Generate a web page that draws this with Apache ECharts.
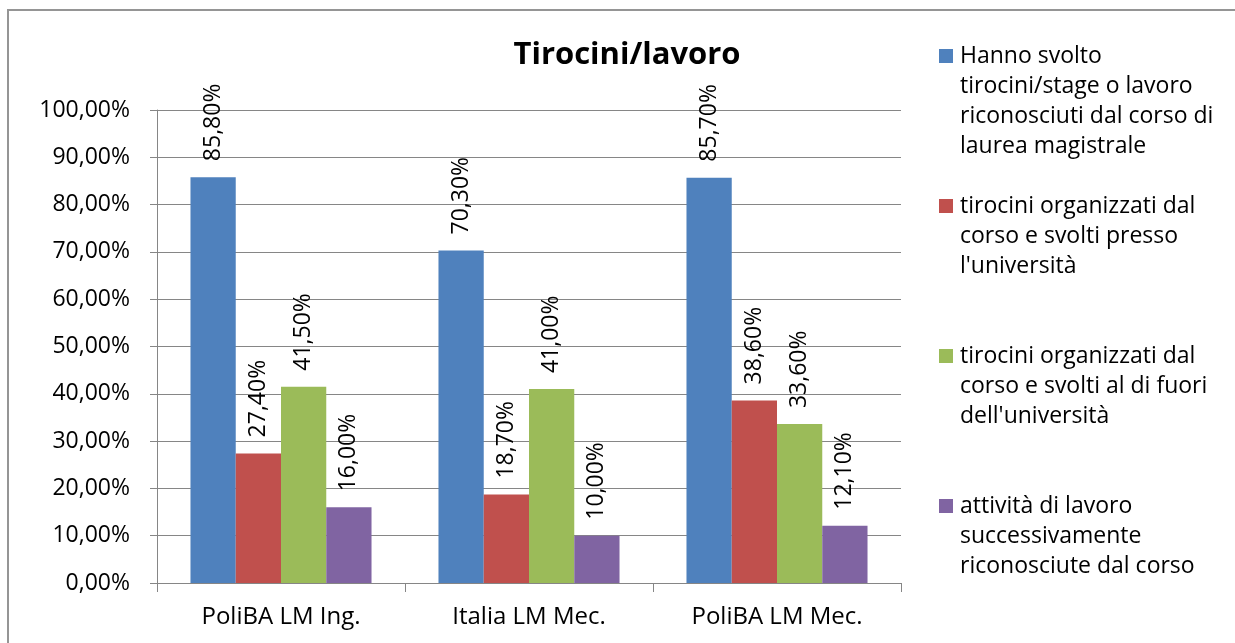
<!DOCTYPE html>
<html>
<head>
<meta charset="utf-8">
<script src="https://cdn.jsdelivr.net/npm/echarts@6/dist/echarts.min.js"></script>
<style>
  html, body { margin: 0; padding: 0; background: #fff; }
  #chart { width: 1235px; height: 643px; }
</style>
</head>
<body>
<div id="chart"></div>
<script>
// Categories (groups on the x axis)
const categories = ['PoliBA LM Ing.', 'Italia LM Mec.', 'PoliBA LM Mec.'];

// Series names and values (percent)
const seriesNames = [
  'Hanno svolto tirocini/stage o lavoro riconosciuti dal corso di laurea magistrale',
  "tirocini organizzati dal corso e svolti presso l'università",
  "tirocini organizzati dal corso e svolti al di fuori dell'università",
  'attività di lavoro successivamente riconosciute dal corso'
];
const hannoSvolto = [85.8, 70.3, 85.7];
const pressoUniversita = [27.4, 18.7, 38.6];
const fuoriUniversita = [41.5, 41.0, 33.6];
const attivitaLavoro = [16.0, 10.0, 12.1];

// Legend text, wrapped as displayed
const legendLines = [
  ['Hanno svolto', 'tirocini/stage o lavoro', 'riconosciuti dal corso di', 'laurea magistrale'],
  ['tirocini organizzati dal', 'corso e svolti presso', "l'università"],
  ['tirocini organizzati dal', 'corso e svolti al di fuori', "dell'università"],
  ['attività di lavoro', 'successivamente', 'riconosciute dal corso']
];

// Y axis ticks
const yMin = 0, yMax = 100, yStep = 10;

const colors = ['#4F81BD', '#C0504D', '#9BBB59', '#8064A2'];
const FONT = '"Open Sans"';
const FS_AXIS = 23;
const FS_CAT = 24;
const FS_LABEL = 23;
const FS_LEGEND = 23;

const fmtPct = v => v.toFixed(2).replace('.', ',') + '%';

const values = [hannoSvolto, pressoUniversita, fuoriUniversita, attivitaLavoro];
const legendTops = [41, 191, 341, 491];

const chart = echarts.init(document.getElementById('chart'), null, { renderer: 'canvas' });

const series = values.map((vals, i) => ({
  name: seriesNames[i],
  type: 'bar',
  data: vals,
  barGap: '0%',
  barCategoryGap: '27%',
  itemStyle: { color: colors[i] },
  label: {
    show: true,
    position: 'top',
    rotate: 90,
    align: 'left',
    verticalAlign: 'middle',
    distance: 16,
    fontFamily: FONT,
    fontSize: FS_LABEL,
    color: '#000',
    formatter: p => fmtPct(p.value)
  }
}));

// One legend block per series, each with its colour square on the first line
const legends = seriesNames.map((name, i) => {
  const lines = legendLines[i];
  const rich = {
    sq: { width: 14, height: 14, backgroundColor: colors[i] },
    t: { fontFamily: FONT, fontSize: FS_LEGEND, color: '#000', lineHeight: 30, padding: [0, 0, 0, 7] },
    ind: { fontFamily: FONT, fontSize: FS_LEGEND, color: '#000', lineHeight: 30, padding: [0, 0, 0, 21] }
  };
  return {
    data: [name],
    orient: 'vertical',
    left: 934,
    top: legendTops[i],
    padding: 0,
    itemWidth: 0,
    itemHeight: 0,
    itemGap: 0,
    icon: 'rect',
    itemStyle: { opacity: 0 },
    selectedMode: false,
    textStyle: { rich: rich, lineHeight: 30 },
    formatter: () => '{sq|}{t|' + lines[0] + '}' + lines.slice(1).map(l => '\n{ind|' + l + '}').join('')
  };
});

chart.setOption({
  animation: false,
  color: colors,
  title: {
    text: 'Tirocini/lavoro',
    left: 622,
    top: 35,
    textAlign: 'center',
    textStyle: { fontFamily: FONT, fontSize: 31, fontWeight: 'bold', color: '#000' }
  },
  legend: legends,
  grid: { left: 157, right: 334, top: 110, bottom: 60, containLabel: false },
  xAxis: {
    type: 'category',
    data: categories,
    axisLine: { show: true, lineStyle: { color: '#868686', width: 1 } },
    axisTick: { show: true, length: 9, alignWithLabel: false, lineStyle: { color: '#868686' } },
    axisLabel: { fontFamily: FONT, fontSize: FS_CAT, color: '#000', margin: 22 }
  },
  yAxis: {
    type: 'value',
    min: yMin,
    max: yMax,
    interval: yStep,
    axisLine: { show: true, lineStyle: { color: '#868686', width: 1 } },
    axisTick: { show: true, length: 7, lineStyle: { color: '#868686' } },
    axisLabel: { fontFamily: FONT, fontSize: FS_AXIS, color: '#000', margin: 27, formatter: v => fmtPct(v) },
    splitLine: { show: true, lineStyle: { color: '#868686', width: 1 } }
  },
  graphic: [{
    type: 'rect',
    silent: true,
    z: -1,
    shape: { x: 8, y: 10, width: 1260, height: 700 },
    style: { fill: null, stroke: '#959595', lineWidth: 2 }
  }],
  series: series
});
</script>
</body>
</html>
